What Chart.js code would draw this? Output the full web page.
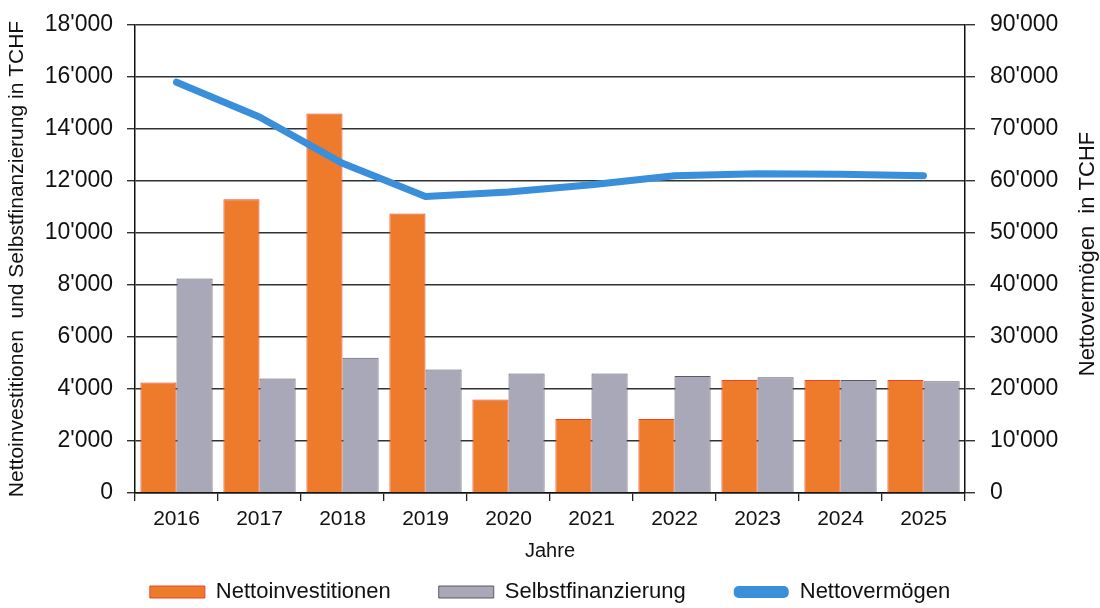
<!DOCTYPE html>
<html>
<head>
<meta charset="utf-8">
<script src="https://cdn.jsdelivr.net/npm/chart.js@4.4.1/dist/chart.umd.min.js"></script>
<style>
  html, body { margin: 0; padding: 0; background: #ffffff; }
  #wrap { width: 1100px; height: 608px; }
</style>
</head>
<body>
<div id="wrap"><canvas id="chart" width="1100" height="608"></canvas></div>
<script>
const years = ['2016', '2017', '2018', '2019', '2020', '2021', '2022', '2023', '2024', '2025'];
const nettoinvestitionen = [4250, 11300, 14600, 10750, 3600, 2850, 2850, 4350, 4350, 4350];
const selbstfinanzierung = [8250, 4400, 5200, 4750, 4600, 4600, 4500, 4450, 4350, 4300];
const nettovermoegen = [79000, 72300, 63400, 57000, 57900, 59300, 61000, 61400, 61300, 61000];

const leftAxis = { min: 0, max: 18000, step: 2000 };
const rightAxis = { min: 0, max: 90000, step: 10000 };

const FONT = '"Liberation Sans", Arial, sans-serif';

function swissNumber(value) {
  return String(value).replace(/\B(?=(\d{3})+(?!\d))/g, "'");
}

// fixed axis widths, and no extra room above the top tick label
function fitVertical(scale) {
  scale.width = 135;
  scale.paddingTop = 0;
}

// titles that Chart.js cannot place the way the original does
const extraTitles = {
  id: 'extraTitles',
  afterDraw(chart) {
    const { ctx, chartArea, scales } = chart;
    ctx.save();
    ctx.fillStyle = '#111';
    ctx.textAlign = 'center';
    ctx.textBaseline = 'middle';
    ctx.font = '20px ' + FONT;
    ctx.fillText('Jahre', (chartArea.left + chartArea.right) / 2, scales.x.top + 58);
    ctx.font = '22px ' + FONT;
    ctx.translate(scales.y2.right - 12, (chartArea.top + chartArea.bottom) / 2 - 5);
    ctx.rotate(-Math.PI / 2);
    ctx.fillText('Nettovermögen  in TCHF', 0, 0);
    ctx.restore();
  },
};

new Chart(document.getElementById('chart'), {
  type: 'bar',
  data: {
    labels: years,
    datasets: [
      {
        label: 'Nettoinvestitionen',
        data: nettoinvestitionen,
        backgroundColor: '#ee7a2c',
        borderColor: '#e8452a',
        borderWidth: 1,
        yAxisID: 'y',
        order: 2,
      },
      {
        label: 'Selbstfinanzierung',
        data: selbstfinanzierung,
        backgroundColor: '#a8a8b8',
        borderColor: '#5a5a64',
        borderWidth: 1,
        yAxisID: 'y',
        order: 2,
      },
      {
        type: 'line',
        label: 'Nettovermögen',
        data: nettovermoegen,
        borderColor: '#3a8fdb',
        backgroundColor: '#3a8fdb',
        borderWidth: 7,
        borderCapStyle: 'round',
        borderJoinStyle: 'round',
        pointRadius: 0,
        tension: 0,
        yAxisID: 'y2',
        order: 0,
      },
    ],
  },
  options: {
    responsive: false,
    animation: false,
    datasets: {
      bar: { categoryPercentage: 0.87, barPercentage: 1.0 },
    },
    layout: { padding: { top: 25, right: 0, bottom: -5, left: 0 } },
    scales: {
      x: {
        offset: true,
        grid: { offset: true, drawOnChartArea: false, drawTicks: true, tickLength: 8, color: '#222', lineWidth: 1.3 },
        border: { color: '#111', width: 1.5 },
        ticks: { color: '#111', font: { family: FONT, size: 21 }, padding: 6, maxRotation: 0 },
        afterFit(scale) { scale.height = 40; },
      },
      y: {
        position: 'left',
        min: leftAxis.min,
        max: leftAxis.max,
        ticks: {
          stepSize: leftAxis.step,
          color: '#111',
          font: { family: FONT, size: 23 },
          padding: 14,
          callback: (v) => swissNumber(v),
        },
        grid: { color: '#333', lineWidth: 1.4, tickLength: 8 },
        border: { color: '#111', width: 1.5 },
        title: {
          display: true,
          text: 'Nettoinvestitionen  und Selbstfinanzierung in TCHF',
          color: '#111',
          font: { family: FONT, size: 21 },
          padding: { top: 5, bottom: 0 },
        },
        afterFit: fitVertical,
      },
      y2: {
        position: 'right',
        min: rightAxis.min,
        max: rightAxis.max,
        ticks: {
          stepSize: rightAxis.step,
          color: '#111',
          font: { family: FONT, size: 23 },
          padding: 15,
          callback: (v) => swissNumber(v),
        },
        grid: { drawOnChartArea: false, color: '#333', lineWidth: 1.4, tickLength: 10 },
        border: { color: '#111', width: 1.5 },
        afterFit: fitVertical,
      },
    },
    plugins: {
      tooltip: { enabled: false },
      legend: {
        position: 'bottom',
        labels: {
          color: '#111',
          font: { family: FONT, size: 22 },
          boxWidth: 55,
          boxHeight: 12,
          padding: 48,
          useBorderRadius: true,
          sort: (a, b) => a.datasetIndex - b.datasetIndex,
          generateLabels(chart) {
            const items = Chart.defaults.plugins.legend.labels.generateLabels(chart);
            items.forEach((item) => {
              if (item.datasetIndex === 2) {
                item.lineWidth = 0;
                item.borderRadius = 5;
              } else {
                item.lineWidth = 1;
                item.borderRadius = 0;
              }
            });
            return items;
          },
        },
      },
    },
  },
  plugins: [extraTitles],
});
</script>
</body>
</html>
